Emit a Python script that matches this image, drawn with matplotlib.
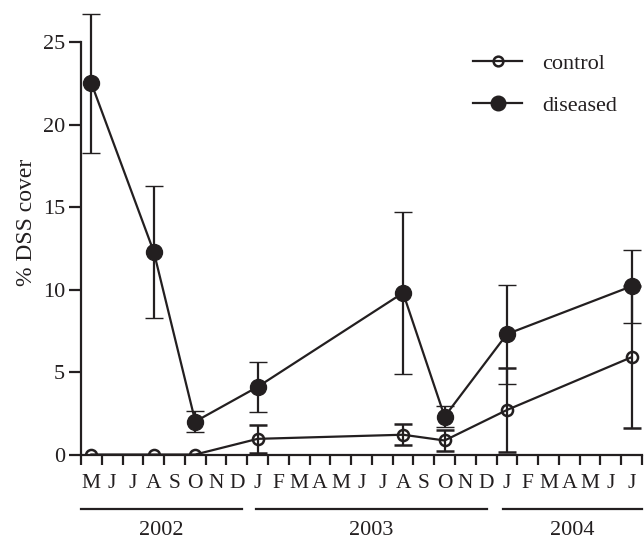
import matplotlib
matplotlib.use("Agg")
from matplotlib import pyplot as plt
from matplotlib.lines import Line2D
import numpy as np

# data
months = ['M', 'J', 'J', 'A', 'S', 'O', 'N', 'D',
          'J', 'F', 'M', 'A', 'M', 'J', 'J', 'A', 'S', 'O', 'N', 'D',
          'J', 'F', 'M', 'A', 'M', 'J', 'J']
sample_month = [0, 3, 5, 8, 15, 17, 20, 26]   # index into months
control = [0, 0, 0, 0.95, 1.2, 0.85, 2.7, 5.9]
control_err = [0, 0, 0, 0.85, 0.65, 0.66, 2.55, 4.3]
diseased = [22.5, 12.3, 2.0, 4.1, 9.8, 2.3, 7.3, 10.2]
diseased_err = [4.2, 4.0, 0.65, 1.5, 4.9, 0.65, 3.0, 2.2]
years = ['2002', '2003', '2004']
year_span = [(0, 7.75), (8.42, 19.55), (20.3, 27)]

ink = '#231f20'
plt.rcParams['font.family'] = ['Liberation Serif', 'DejaVu Serif']

fig = plt.figure(figsize=(6.44, 5.42), dpi=100)
ax = fig.add_axes([0.1258, 0.1614, 0.8711, 0.834])

x = np.array(sample_month) + 0.5

ax.errorbar(x, control, yerr=control_err, color=ink, lw=1.6, elinewidth=1.6,
            capsize=6.5, capthick=1.6, marker='o', ms=8, mfc='none',
            mec=ink, mew=1.8, zorder=3)
ax.errorbar(x, diseased, yerr=diseased_err, color=ink, lw=1.6, elinewidth=1.6,
            capsize=6.5, capthick=1.6, marker='o', ms=11.5, mfc=ink,
            mec=ink, mew=1.0, zorder=4)

ax.set_xlim(0, 27)
ax.set_ylim(0, 27.4)
for s in ['top', 'right']:
    ax.spines[s].set_visible(False)
ax.spines['left'].set_bounds(0, 25)
ax.spines['left'].set_linewidth(1.6)
ax.spines['bottom'].set_linewidth(1.6)
ax.spines['left'].set_color(ink)
ax.spines['bottom'].set_color(ink)

ax.set_yticks([0, 5, 10, 15, 20, 25])
ax.tick_params(axis='y', length=8.5, width=1.6, pad=3, labelsize=16, colors=ink)
ax.set_xticks(np.arange(0, 28))
ax.set_xticklabels([])
ax.tick_params(axis='x', which='major', length=7.2, width=1.6, color=ink)
ax.set_xticks(np.arange(27) + 0.5, minor=True)
ax.set_xticklabels(months, minor=True)
ax.tick_params(axis='x', which='minor', length=0, pad=14, labelsize=15.5, labelcolor=ink)

ax.set_ylabel('% DSS cover', fontsize=17, color=ink)
ax.yaxis.set_label_coords(-0.078, 0.514)

# year bars under the months
trans = ax.get_xaxis_transform()
for yr, (a, b) in zip(years, year_span):
    ax.plot([a, b], [-0.1205, -0.1205], color=ink, lw=1.6, transform=trans, clip_on=False)
    ax.text((a + b) / 2, -0.167, yr, transform=trans, ha='center', va='center',
            fontsize=16, color=ink)

handles = [Line2D([], [], color=ink, lw=1.6, marker='o', ms=7, mfc='none', mec=ink, mew=1.8),
           Line2D([], [], color=ink, lw=1.6, marker='o', ms=10.5, mfc=ink, mec=ink)]
ax.legend(handles, ['control', 'diseased'], loc='upper left', bbox_to_anchor=(0.699, 0.888),
          frameon=False, fontsize=16, handlelength=2.2, handletextpad=0.9,
          labelspacing=0.97, borderpad=0, borderaxespad=0, labelcolor=ink)

plt.savefig('out.png', dpi=100)
